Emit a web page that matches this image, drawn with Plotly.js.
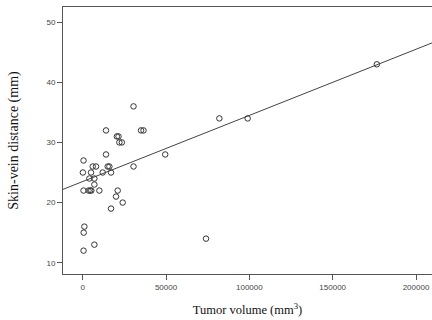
<!DOCTYPE html>
<html>
<head>
<meta charset="utf-8">
<script src="https://cdn.plot.ly/plotly-3.0.1.min.js"></script>
<style>html,body{margin:0;padding:0;background:#fff;}#chart{width:432px;height:320px;}</style>
</head>
<body>
<div id="chart"></div>
<script>
// Tumor volume (mm^3) and skin-vein distance (mm)
const tumorVolume = [30500, 82000, 99000, 176500, 14000, 35000, 36500, 20500, 21500, 22000,
  23500, 14000, 49500, 500, 6000, 8000, 15000, 16000, 30500, 100,
  5000, 12000, 17000, 4000, 7000, 7000, 500, 3500, 4500, 5200,
  10000, 21000, 20000, 24000, 17000, 1000, 600, 7000, 500, 74000];
const skinVeinDistance = [36, 34, 34, 43, 32, 32, 32, 31, 31, 30,
  30, 28, 28, 27, 26, 26, 26, 26, 26, 25,
  25, 25, 25, 24, 24, 23, 22, 22, 22, 22,
  22, 22, 21, 20, 19, 16, 15, 13, 12, 14];

// Linear fit line parameters
const fitIntercept = 23.5;
const fitSlope = 0.00011;

const xRange = [-11820, 209600];
const yRange = [8.12, 52.53];
const yTicks = [10, 20, 30, 40, 50];
const xTicks = [0, 50000, 100000, 150000, 200000];
const xTickLabels = ['0', '50000', '100000', '150000', '200000'];

const fitX = xRange.slice();
const fitY = fitX.map(x => fitIntercept + fitSlope * x);

const traces = [
  {
    x: fitX, y: fitY, type: 'scatter', mode: 'lines',
    line: {color: '#444', width: 1}, hoverinfo: 'skip'
  },
  {
    x: tumorVolume, y: skinVeinDistance, type: 'scatter', mode: 'markers',
    marker: {symbol: 'circle-open', size: 5.5, color: '#333', line: {width: 1, color: '#333'}}
  }
];

const layout = {
  width: 432, height: 320,
  margin: {l: 63, r: 0, t: 7, b: 46},
  paper_bgcolor: '#fff', plot_bgcolor: '#fff',
  showlegend: false,
  font: {family: 'Liberation Sans, Arial, sans-serif', color: '#333'},
  xaxis: {
    range: xRange, tickvals: xTicks, ticktext: xTickLabels,
    showgrid: false, zeroline: false,
    showline: true, linecolor: '#555', linewidth: 1, mirror: true,
    ticks: 'outside', ticklen: 5, tickcolor: '#555', tickwidth: 1,
    tickfont: {size: 8, family: 'Liberation Sans, Arial, sans-serif', color: '#444'},
    title: {text: 'Tumor volume (mm<sup>3</sup>)', standoff: 14,
      font: {family: 'Liberation Serif, Times New Roman, serif', size: 12.5, color: '#111'}}
  },
  yaxis: {
    range: yRange, tickvals: yTicks,
    showgrid: false, zeroline: false,
    showline: true, linecolor: '#555', linewidth: 1, mirror: false,
    ticks: 'outside', ticklen: 5, tickcolor: '#555', tickwidth: 1,
    tickfont: {size: 8, family: 'Liberation Sans, Arial, sans-serif', color: '#444'},
    title: {text: 'Skin-vein distance (mm)', standoff: 24,
      font: {family: 'Liberation Serif, Times New Roman, serif', size: 14, color: '#111'}}
  }
};

Plotly.newPlot('chart', traces, layout, {displayModeBar: false, staticPlot: true});
</script>
</body>
</html>
